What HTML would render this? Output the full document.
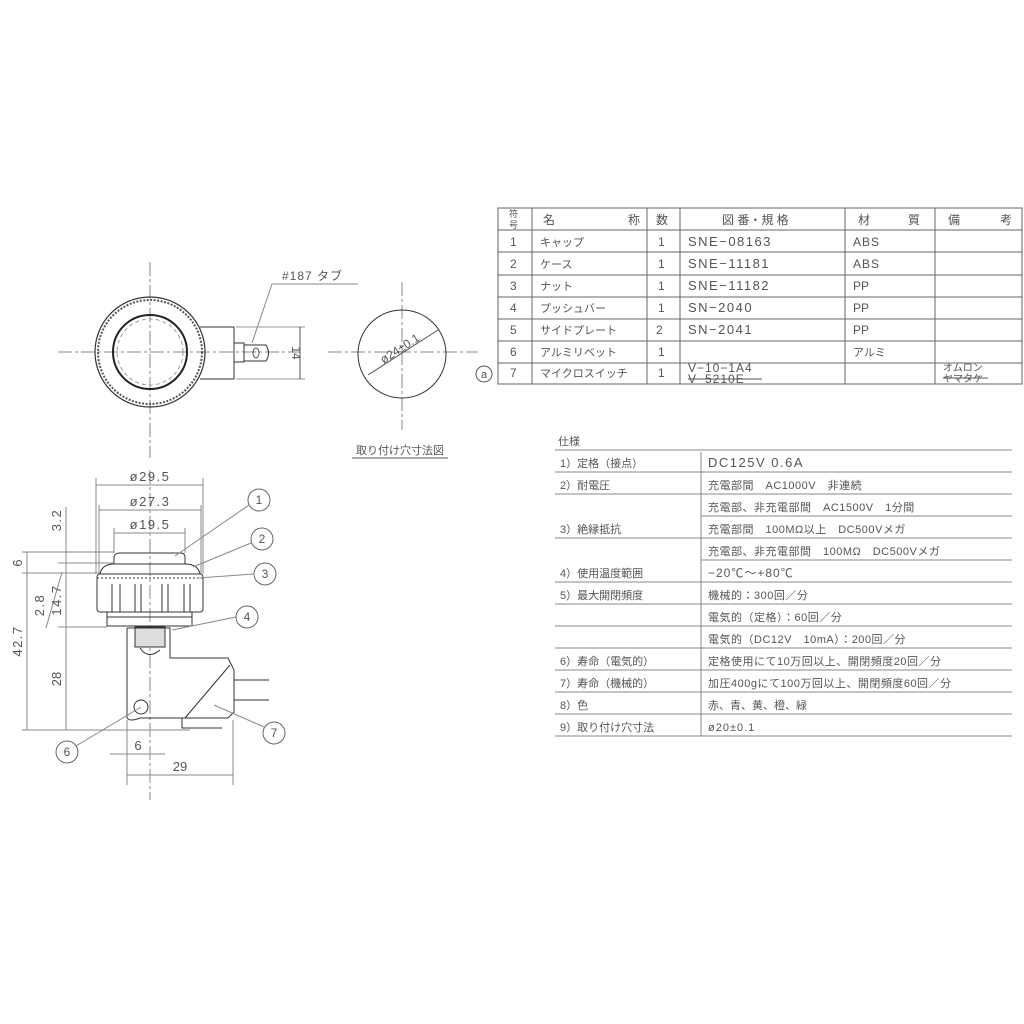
<!DOCTYPE html>
<html><head><meta charset="utf-8"><style>
body{margin:0;background:#fff;width:1024px;height:1024px;overflow:hidden}
svg{display:block}
text{font-family:"Liberation Sans","Noto Sans CJK JP",sans-serif;fill:#555;stroke:none}
</style></head><body>
<svg width="1024" height="1024" viewBox="0 0 1024 1024" stroke="#555" fill="none" stroke-width="1">
<!-- top view -->
<g stroke-dasharray="14 3 3 3" stroke="#888">
<line x1="58" y1="352" x2="300" y2="352"/><line x1="150" y1="262" x2="150" y2="458"/>
<line x1="328" y1="352" x2="478" y2="352"/><line x1="402" y1="282" x2="402" y2="430"/>
<line x1="150" y1="470" x2="150" y2="800"/>
</g>
<circle cx="150" cy="352" r="55" stroke="#333" stroke-width="1.2"/>
<circle cx="150" cy="352" r="52" stroke="#555" stroke-dasharray="2 1.5" stroke-width="2"/>
<circle cx="150" cy="352" r="37" stroke="#222" stroke-width="2"/>
<circle cx="150" cy="352" r="33" stroke="#999" stroke-dasharray="4 3"/>
<path d="M200 327 H234 V379 H200 M234 343 H244 V362 H234 M244 345 H266 Q271 353 266 361 H244" stroke="#333"/>
<ellipse cx="256" cy="353" rx="3" ry="5"/>
<line x1="252" y1="343" x2="272" y2="284" stroke="#888"/><line x1="272" y1="284" x2="358" y2="284" stroke="#888"/>
<text x="282" y="280" font-size="12" letter-spacing="1">#187 タブ</text>
<line x1="236" y1="327" x2="305" y2="327" stroke="#999"/><line x1="236" y1="379" x2="305" y2="379" stroke="#999"/>
<line x1="300" y1="327" x2="300" y2="379"/>
<text x="292" y="353" font-size="12" transform="rotate(90 292 353)" text-anchor="middle">14</text>
<circle cx="402" cy="354" r="44" stroke="#333"/>
<line x1="368" y1="375" x2="438" y2="330"/>
<text x="402" y="352" font-size="12" transform="rotate(-33 402 352)" text-anchor="middle">ø24±0.1</text>
<text x="356" y="454" font-size="11">取り付け穴寸法図</text>
<line x1="352" y1="458" x2="448" y2="458"/>
<circle cx="484" cy="374" r="8"/><text x="484" y="378" font-size="11" text-anchor="middle">a</text>
<!-- parts table -->
<g stroke="#666">
<rect x="498" y="208" width="524" height="176"/>
<line x1="498" y1="230" x2="1022" y2="230"/><line x1="498" y1="252" x2="1022" y2="252"/><line x1="498" y1="275" x2="1022" y2="275"/><line x1="498" y1="297" x2="1022" y2="297"/><line x1="498" y1="319" x2="1022" y2="319"/><line x1="498" y1="341" x2="1022" y2="341"/><line x1="498" y1="363" x2="1022" y2="363"/>
<line x1="532" y1="208" x2="532" y2="384"/><line x1="647" y1="208" x2="647" y2="384"/><line x1="680" y1="208" x2="680" y2="384"/><line x1="845" y1="208" x2="845" y2="384"/><line x1="935" y1="208" x2="935" y2="384"/>
</g>
<g font-size="12">
<text x="509" y="217" font-size="9">符</text><text x="509" y="228" font-size="9">号</text>
<text x="543" y="224">名</text><text x="628" y="224">称</text><text x="656" y="224">数</text><text x="722" y="224">図 番・規 格</text><text x="858" y="224">材</text><text x="908" y="224">質</text><text x="948" y="224">備</text><text x="1000" y="224">考</text>
<text x="510" y="246">1</text><text x="540" y="246" font-size="11">キャップ</text><text x="658" y="246">1</text><text x="688" y="246" font-size="13" letter-spacing="1.5">SNE−08163</text><text x="853" y="246" letter-spacing="1">ABS</text>
<text x="510" y="268">2</text><text x="540" y="268" font-size="11">ケース</text><text x="658" y="268">1</text><text x="688" y="268" font-size="13" letter-spacing="1.5">SNE−11181</text><text x="853" y="268" letter-spacing="1">ABS</text>
<text x="510" y="290">3</text><text x="540" y="290" font-size="11">ナット</text><text x="658" y="290">1</text><text x="688" y="290" font-size="13" letter-spacing="1.5">SNE−11182</text><text x="853" y="290">PP</text>
<text x="510" y="312">4</text><text x="540" y="312" font-size="11">プッシュバー</text><text x="658" y="312">1</text><text x="688" y="312" font-size="13" letter-spacing="1.5">SN−2040</text><text x="853" y="312">PP</text>
<text x="510" y="334">5</text><text x="540" y="334" font-size="11">サイドプレート</text><text x="656" y="334">2</text><text x="688" y="334" font-size="13" letter-spacing="1.5">SN−2041</text><text x="853" y="334">PP</text>
<text x="510" y="356">6</text><text x="540" y="356" font-size="11">アルミリベット</text><text x="658" y="356">1</text><text x="853" y="356" font-size="11">アルミ</text>
<text x="510" y="377">7</text><text x="540" y="377" font-size="11">マイクロスイッチ</text><text x="658" y="377">1</text>
<text x="688" y="372" font-size="12" letter-spacing="1">V−10−1A4</text><text x="688" y="383" font-size="12" letter-spacing="1">V−5210E</text>
<text x="943" y="371" font-size="10">オムロン</text><text x="943" y="382" font-size="10">ヤマタケ</text>
</g>
<line x1="688" y1="379" x2="762" y2="379"/><line x1="943" y1="378" x2="988" y2="378"/>
<!-- spec table -->
<text x="558" y="445" font-size="11">仕様</text>
<g stroke="#888">
<line x1="555" y1="450" x2="1012" y2="450"/><line x1="555" y1="472" x2="1012" y2="472"/><line x1="555" y1="494" x2="1012" y2="494"/><line x1="701" y1="516" x2="1012" y2="516"/><line x1="555" y1="538" x2="1012" y2="538"/><line x1="701" y1="560" x2="1012" y2="560"/><line x1="555" y1="582" x2="1012" y2="582"/><line x1="555" y1="604" x2="1012" y2="604"/><line x1="555" y1="626" x2="1012" y2="626"/><line x1="555" y1="648" x2="1012" y2="648"/><line x1="555" y1="670" x2="1012" y2="670"/><line x1="555" y1="692" x2="1012" y2="692"/><line x1="555" y1="714" x2="1012" y2="714"/><line x1="555" y1="736" x2="1012" y2="736"/>
<line x1="701" y1="452" x2="701" y2="736"/>
</g>
<g font-size="11">
<text x="560" y="467">1）定格（接点）</text><text x="708" y="467" font-size="13" letter-spacing="1.5">DC125V  0.6A</text>
<text x="560" y="489">2）耐電圧</text><text x="708" y="489" letter-spacing="0.5">充電部間　AC1000V　非連続</text>
<text x="708" y="511" letter-spacing="0.5">充電部、非充電部間　AC1500V　1分間</text>
<text x="560" y="533">3）絶縁抵抗</text><text x="708" y="533" letter-spacing="0.5">充電部間　100MΩ以上　DC500Vメガ</text>
<text x="708" y="555" letter-spacing="0.5">充電部、非充電部間　100MΩ　DC500Vメガ</text>
<text x="560" y="577">4）使用温度範囲</text><text x="708" y="577" font-size="12" letter-spacing="1">−20℃〜+80℃</text>
<text x="560" y="599">5）最大開閉頻度</text><text x="708" y="599" letter-spacing="0.5">機械的：300回／分</text>
<text x="708" y="621" letter-spacing="0.5">電気的（定格）：60回／分</text>
<text x="708" y="643" letter-spacing="0.5">電気的（DC12V　10mA）：200回／分</text>
<text x="560" y="665">6）寿命（電気的）</text><text x="708" y="665" letter-spacing="0.5">定格使用にて10万回以上、開閉頻度20回／分</text>
<text x="560" y="687">7）寿命（機械的）</text><text x="708" y="687" letter-spacing="0.5">加圧400gにて100万回以上、開閉頻度60回／分</text>
<text x="560" y="709">8）色</text><text x="708" y="709">赤、青、黄、橙、緑</text>
<text x="560" y="731">9）取り付け穴寸法</text><text x="708" y="731" letter-spacing="1">ø20±0.1</text>
</g>
<!-- side view -->
<g stroke="#333">
<path d="M114 564 V557 Q115 553 120 553 H180 Q185 553 185 557 V564"/>
<path d="M100 574 Q102 564 114 564 H185 Q198 564 200 574"/>
<rect x="97" y="574" width="106" height="38" rx="3"/>
<line x1="97" y1="578" x2="203" y2="578" stroke-dasharray="2 2"/>
<path d="M112 584 V612 M120 584 V612 M135 584 V612 M141 584 V612 M162 584 V612 M168 584 V612 M184 584 V612 M190 584 V612"/>
<path d="M107 612 V626 H192 V612 M107 617 H192"/>
<rect x="135" y="627" width="30" height="20" fill="#ddd"/>
<path d="M127 628 V718 Q130 722 140 718 H228 L234 712 V670 L228 658 H170 V628 H127"/>
<line x1="185" y1="718" x2="230" y2="665"/>
<circle cx="141" cy="707" r="7"/>
<path d="M140 648 Q148 660 160 650"/>
<path d="M234 680 H269 M234 700 H269 M182 718 V728 H222"/>
</g>
<g stroke="#888">
<line x1="96" y1="478" x2="96" y2="574"/><line x1="203" y1="478" x2="203" y2="574"/><line x1="99" y1="505" x2="99" y2="574"/><line x1="201" y1="505" x2="201" y2="574"/><line x1="114" y1="528" x2="114" y2="553"/><line x1="185" y1="528" x2="185" y2="553"/>
<line x1="96" y1="485" x2="203" y2="485"/><line x1="99" y1="510" x2="201" y2="510"/><line x1="114" y1="533" x2="185" y2="533"/>
<line x1="22" y1="552" x2="114" y2="552"/><line x1="22" y1="573" x2="100" y2="573"/><line x1="58" y1="563" x2="114" y2="563"/><line x1="58" y1="627" x2="107" y2="627"/><line x1="22" y1="730" x2="190" y2="730"/>
<line x1="27" y1="552" x2="27" y2="730"/><line x1="66" y1="507" x2="66" y2="730"/>
<line x1="127" y1="720" x2="127" y2="785"/><line x1="233" y1="720" x2="233" y2="785"/>
<line x1="110" y1="754" x2="165" y2="754"/><line x1="127" y1="775" x2="233" y2="775"/>
<line x1="46" y1="628" x2="62" y2="572"/>
<line x1="175" y1="556" x2="249" y2="505"/><line x1="193" y1="567" x2="251" y2="543"/><line x1="198" y1="578" x2="254" y2="574"/><line x1="172" y1="630" x2="236" y2="617"/><line x1="141" y1="707" x2="76" y2="746"/><line x1="214" y1="705" x2="264" y2="727"/>
</g>
<g font-size="13">
<text x="150" y="481" text-anchor="middle" letter-spacing="1.5">ø29.5</text>
<text x="150" y="506" text-anchor="middle" letter-spacing="1.5">ø27.3</text>
<text x="150" y="529" text-anchor="middle" letter-spacing="1.5">ø19.5</text>
<text x="22" y="641" transform="rotate(-90 22 641)" text-anchor="middle" letter-spacing="1.5">42.7</text>
<text x="22" y="563" transform="rotate(-90 22 563)" text-anchor="middle">6</text>
<text x="61" y="520" transform="rotate(-90 61 520)" text-anchor="middle" letter-spacing="1.5">3.2</text>
<text x="61" y="600" transform="rotate(-90 61 600)" text-anchor="middle" letter-spacing="1.5">14.7</text>
<text x="44" y="605" transform="rotate(-90 44 605)" text-anchor="middle" letter-spacing="1.5">2.8</text>
<text x="61" y="679" transform="rotate(-90 61 679)" text-anchor="middle">28</text>
<text x="138" y="750" text-anchor="middle">6</text>
<text x="180" y="771" text-anchor="middle">29</text>
</g>
<g stroke="#666">
<circle cx="259" cy="500" r="11"/><circle cx="262" cy="539" r="11"/><circle cx="265" cy="574" r="11"/><circle cx="247" cy="617" r="11"/><circle cx="67" cy="752" r="11"/><circle cx="274" cy="733" r="11"/>
</g>
<g font-size="12" text-anchor="middle">
<text x="259" y="504">1</text><text x="262" y="543">2</text><text x="265" y="578">3</text><text x="247" y="621">4</text><text x="67" y="756">6</text><text x="274" y="737">7</text>
</g>
</svg>
</body></html>
